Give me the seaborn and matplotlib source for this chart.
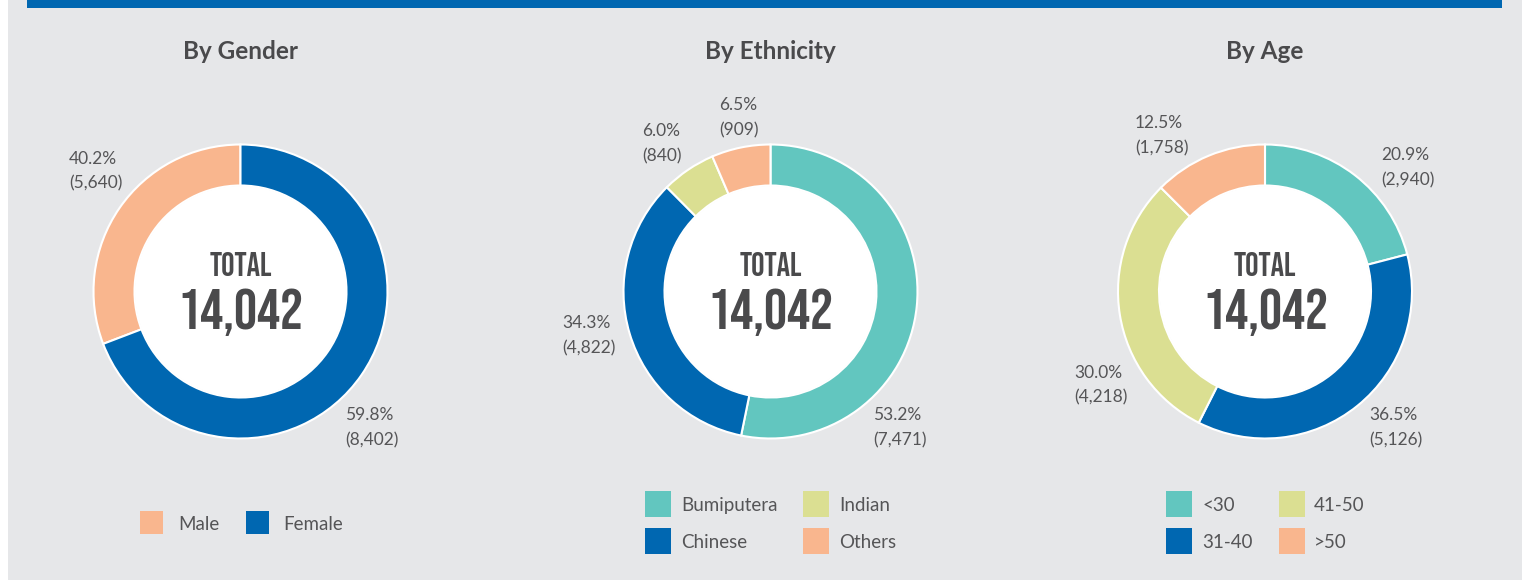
import matplotlib
matplotlib.use("Agg")
import matplotlib.pyplot as plt
from matplotlib.patches import Rectangle, Circle
import seaborn as sns

# ---------------- data ----------------
titles = ["By Gender", "By Ethnicity", "By Age"]

gender_cats = ["Male", "Female"]
gender_vals = [5640, 8402]
# The gender ring in the source image is not drawn in proportion to its labels:
# the arcs actually drawn span roughly these shares.
gender_arc_pct = [30.8, 69.2]

ethnicity_cats = ["Bumiputera", "Chinese", "Indian", "Others"]
ethnicity_vals = [7471, 4822, 840, 909]

age_cats = ["<30", "31-40", "41-50", ">50"]
age_vals = [2940, 5126, 4218, 1758]

total_label = "TOTAL"

# ---------------- style ----------------
sns.set_theme(style="white")
plt.rcParams["font.family"] = ["Lato", "DejaVu Sans"]

BG = "#e6e7e9"
BLUE = "#0067b1"
PEACH = "#f9b68e"
TEAL = "#62c6bf"
LIME = "#dbdf92"
TXT = "#4a4a4c"
LBL = "#555557"

gender_colors = sns.color_palette([PEACH, BLUE])
ethnicity_colors = sns.color_palette([TEAL, BLUE, LIME, PEACH])
age_colors = sns.color_palette([TEAL, BLUE, LIME, PEACH])

W, H = 1522, 580
fig = plt.figure(figsize=(W / 100, H / 100), dpi=100)
fig.patch.set_facecolor("white")
ax = fig.add_axes([0, 0, 1, 1])
ax.set_facecolor("white")


def Y(yp):
    return H - yp


# panel background and top bar
ax.add_patch(Rectangle((8, 0), W - 8, H, facecolor=BG, edgecolor="none", zorder=0))
ax.add_patch(Rectangle((27, Y(8)), 1502 - 27, 8, facecolor=BLUE, edgecolor="none", zorder=1))

R_OUT, R_IN = 147, 106
CY = Y(291.5)

charts = [
    dict(cx=240.5, cats=gender_cats, vals=gender_vals, arcs=gender_arc_pct,
         colors=gender_colors, ccw=True,
         lab=[(69, 157), (345, 414)],
         leg=dict(kind="row", sq=23, xs=[(140, 178), (246, 283)], y=522.5)),
    dict(cx=770.5, cats=ethnicity_cats, vals=ethnicity_vals, arcs=ethnicity_vals,
         colors=ethnicity_colors, ccw=False,
         lab=[(873, 414), (562, 322), (642, 130), (719, 104)],
         leg=dict(kind="grid", sq=26, cols=[(645, 681), (803, 839)], rows=[504, 541])),
    dict(cx=1265, cats=age_cats, vals=age_vals, arcs=age_vals,
         colors=age_colors, ccw=False,
         lab=[(1381, 154), (1369, 414), (1074, 371), (1135, 122)],
         leg=dict(kind="grid", sq=26, cols=[(1166, 1202), (1279, 1314)], rows=[504, 541])),
]

for title, ch in zip(titles, charts):
    cx = ch["cx"]
    vals = ch["vals"]
    total = sum(vals)
    ax.pie(ch["arcs"], colors=ch["colors"], startangle=90, counterclock=ch["ccw"],
           center=(cx, CY), radius=R_OUT,
           wedgeprops=dict(width=R_OUT - R_IN, edgecolor="white", linewidth=1.5),
           frame=True)
    ax.add_patch(Circle((cx, CY), R_IN - 0.5, facecolor="white", edgecolor="none", zorder=3))

    # title
    ax.text(cx, Y(59), title, ha="center", va="baseline", fontsize=17.5,
            fontweight="bold", color=TXT, family=["Lato", "DejaVu Sans"])

    # center total
    ax.text(cx, Y(276.5), total_label, ha="center", va="baseline", fontsize=24,
            color=TXT, family=["Bebas Neue", "DejaVu Sans"], zorder=4)
    ax.text(cx, Y(329), f"{total:,}", ha="center", va="baseline", fontsize=41.5,
            color=TXT, family=["Bebas Neue", "DejaVu Sans"], zorder=4)

    # value labels
    for v, (lx, ly) in zip(vals, ch["lab"]):
        pct = 100 * v / total
        ax.text(lx, Y(ly + 6.5), f"{pct:.1f}%", ha="left", va="baseline",
                fontsize=12.5, color=LBL)
        ax.text(lx, Y(ly + 25 + 6.5), f"({v:,})", ha="left", va="baseline",
                fontsize=12.5, color=LBL)

    # legend
    lg = ch["leg"]
    sq = lg["sq"]
    if lg["kind"] == "row":
        slots = [(sx, tx, lg["y"]) for sx, tx in lg["xs"]]
    else:
        slots = []
        for sx, tx in lg["cols"]:
            for ry in lg["rows"]:
                slots.append((sx, tx, ry))
    for (sx, tx, ry), cat, col in zip(slots, ch["cats"], ch["colors"]):
        ax.add_patch(Rectangle((sx, Y(ry) - sq / 2), sq, sq, facecolor=col,
                               edgecolor="none", zorder=2))
        ax.text(tx, Y(ry + 7), cat, ha="left", va="baseline", fontsize=13.5, color=LBL)

ax.set_xlim(0, W)
ax.set_ylim(0, H)
ax.set_aspect("equal")
ax.axis("off")

fig.savefig("out.png", dpi=100, facecolor=fig.get_facecolor())
